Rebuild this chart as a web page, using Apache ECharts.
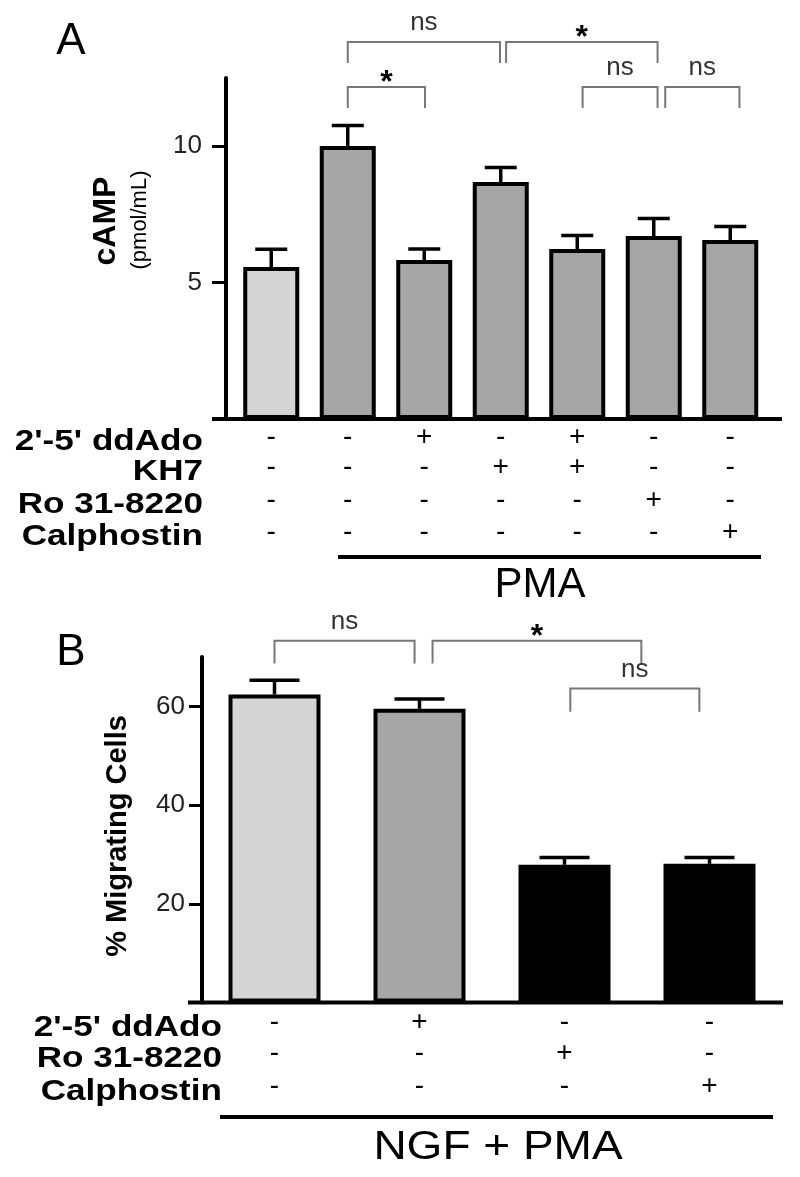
<!DOCTYPE html>
<html>
<head>
<meta charset="utf-8">
<script src="https://cdn.jsdelivr.net/npm/echarts@6/dist/echarts.min.js"></script>
<style>
  html, body { margin: 0; padding: 0; background: #fff; }
  #chart { width: 800px; height: 1177px; }
</style>
</head>
<body>
<div id="chart"></div>
<script>
// ---- panel A : cAMP ----
const catsA = ['ctrl', 'PMA', 'PMA+ddAdo', 'PMA+KH7', 'PMA+ddAdo+KH7', 'PMA+Ro', 'PMA+Calph']
const valuesA = [5.57, 10.01, 5.83, 8.69, 6.23, 6.71, 6.56]
const errorsA = [0.65, 0.75, 0.4, 0.53, 0.5, 0.64, 0.5]
const ticksA = [5, 10]
const rowNamesA = ["2'-5' ddAdo", 'KH7', 'Ro 31-8220', 'Calphostin']
const rowsA = [
    ['-', '-', '+', '-', '+', '-', '-'],
    ['-', '-', '-', '+', '+', '-', '-'],
    ['-', '-', '-', '-', '-', '+', '-'],
    ['-', '-', '-', '-', '-', '-', '+']
]
// [from, to, line value, end value, label]
const bracketsA = [
    [1.0, 2.99, 13.82, 13.05, 'ns'],
    [1.0, 2.01, 12.17, 11.4, '*'],
    [3.07, 5.05, 13.82, 13.05, '*'],
    [4.07, 5.05, 12.17, 11.4, 'ns'],
    [5.15, 6.12, 12.17, 11.4, 'ns']
]

// ---- panel B : migration ----
const catsB = ['NGF+PMA', '+ddAdo', '+Ro', '+Calph']
const valuesB = [62.4, 59.5, 27.9, 28.1]
const errorsB = [2.9, 2.0, 1.5, 1.3]
const ticksB = [20, 40, 60]
const rowNamesB = ["2'-5' ddAdo", 'Ro 31-8220', 'Calphostin']
const rowsB = [
    ['-', '+', '-', '-'],
    ['-', '-', '+', '-'],
    ['-', '-', '-', '+']
]
const bracketsB = [
    [0, 0.966, 73.3, 68.7, 'ns'],
    [1.09, 2.53, 73.3, 68.7, '*'],
    [2.04, 2.93, 63.6, 58.9, 'ns']
]

const FONT = '"Liberation Sans", Arial, Helvetica, sans-serif'

const errorRenderer = (capWidth) => (params, api) => {
    const top = api.coord([api.value(0), api.value(1) + api.value(2)])
    const base = api.coord([api.value(0), api.value(1)])
    return {
        type: 'group',
        children: [
            { type: 'line', shape: { x1: base[0], y1: base[1], x2: top[0], y2: top[1] }, style: { stroke: '#000', lineWidth: 3.5 } },
            { type: 'line', shape: { x1: top[0] - capWidth / 2, y1: top[1], x2: top[0] + capWidth / 2, y2: top[1] }, style: { stroke: '#000', lineWidth: 3.5 } }
        ]
    }
}

const yAxisBase = (grid, max, ticks, offset, margin, tickLen) => ({
    gridIndex: grid,
    type: 'value',
    min: 0,
    max: max,
    offset: offset,
    axisLine: { show: true, lineStyle: { color: '#000', width: 4 } },
    axisTick: { show: true, customValues: ticks, length: tickLen, lineStyle: { color: '#000', width: 3 } },
    axisLabel: { customValues: ticks, fontSize: 26, color: '#222', fontFamily: FONT, margin: margin },
    splitLine: { show: false }
})

const xAxisBase = (grid, cats) => ({
    gridIndex: grid,
    type: 'category',
    data: cats,
    axisLine: { show: false },
    axisTick: { show: false },
    axisLabel: { show: false }
})

const shadeA = i => i === 0 ? '#d4d4d4' : '#a6a6a6'
const shadeB = i => ['#d4d4d4', '#a6a6a6', '#000', '#000'][i]

const option = {
    animation: false,
    backgroundColor: '#fff',
    grid: [
        { left: 233, width: 535.5, top: 78, height: 341 },
        { left: 202, width: 580, top: 657, height: 345.5 }
    ],
    xAxis: [xAxisBase(0, catsA), xAxisBase(1, catsB)],
    yAxis: [
        yAxisBase(0, 12.5, ticksA, 7, 24, 14),
        yAxisBase(1, 70, ticksB, 0, 17, 13)
    ],
    series: [
        {
            type: 'bar', xAxisIndex: 0, yAxisIndex: 0, barWidth: 56,
            data: valuesA.map((v, i) => ({ value: v, itemStyle: { color: shadeA(i), borderColor: '#000', borderWidth: 4 } }))
        },
        {
            type: 'custom', xAxisIndex: 0, yAxisIndex: 0, z: 3,
            encode: { x: 0, y: 1 },
            renderItem: errorRenderer(32),
            data: valuesA.map((v, i) => [i, v, errorsA[i]])
        },
        {
            type: 'bar', xAxisIndex: 1, yAxisIndex: 1, barWidth: 92,
            data: valuesB.map((v, i) => ({ value: v, itemStyle: { color: shadeB(i), borderColor: '#000', borderWidth: 4 } }))
        },
        {
            type: 'custom', xAxisIndex: 1, yAxisIndex: 1, z: 3,
            encode: { x: 0, y: 1 },
            renderItem: errorRenderer(50),
            data: valuesB.map((v, i) => [i, v, errorsB[i]])
        }
    ]
}

const chart = echarts.init(document.getElementById('chart'))
chart.setOption(option)

// helpers for annotations placed through the axes
const px = (g, x, y) => chart.convertToPixel({ gridIndex: g }, [x, y])
const xAt = (g, f) => {
    const p0 = px(g, 0, 0)[0]
    const p1 = px(g, 1, 0)[0]
    return p0 + f * (p1 - p0)
}
const yAt = (g, v) => px(g, 0, v)[1]

const text = (x, y, s, size, weight, extra) => Object.assign({
    type: 'text', x: x, y: y, silent: true,
    style: {
        text: s, fill: '#000', fontFamily: FONT, fontSize: size, fontWeight: weight || 'normal',
        align: 'center', verticalAlign: 'middle', textAlign: 'center', textVerticalAlign: 'middle'
    }
}, extra || {})

const hline = (x1, x2, y, w, color) => ({
    type: 'line', silent: true,
    shape: { x1: x1, y1: y, x2: x2, y2: y },
    style: { stroke: color || '#000', lineWidth: w }
})

const graphics = []

// baselines
graphics.push(hline(212, 782, yAt(0, 0), 4))
graphics.push(hline(188, 783, yAt(1, 0), 4))

// panel letters
graphics.push(text(71, 42, 'A', 44))
graphics.push(text(71, 653, 'B', 44))

// y axis names
graphics.push(text(106, 221, 'cAMP', 32, 'bold', { rotation: Math.PI / 2 }))
graphics.push(text(140, 220, '(pmol/mL)', 22, 'normal', { rotation: Math.PI / 2 }))
graphics.push(text(118, 836, '% Migrating Cells', 29, 'bold', { rotation: Math.PI / 2 }))

// condition tables
const rowLabel = (x, y, s) => {
    const t = text(x, y, s, 30, 'bold', { scaleX: 1.17 })
    t.style.align = 'right'
    t.style.textAlign = 'right'
    return t
}
const rowYA = [442, 472, 505, 537]
rowNamesA.forEach((n, r) => {
    graphics.push(rowLabel(203, rowYA[r], n))
    rowsA[r].forEach((s, i) => graphics.push(text(xAt(0, i), rowYA[r] - 5, s, 28)))
})
const rowYB = [1028, 1059, 1092]
rowNamesB.forEach((n, r) => {
    graphics.push(rowLabel(222, rowYB[r], n))
    rowsB[r].forEach((s, i) => graphics.push(text(xAt(1, i), rowYB[r] - 6, s, 28)))
})

// treatment group lines
graphics.push(hline(338, 761, 557, 4))
graphics.push(text(540, 585, 'PMA', 42))
graphics.push(hline(220, 773, 1117, 4))
graphics.push(text(498, 1148, 'NGF + PMA', 40, 'normal', { scaleX: 1.15 }))

// significance brackets
const bracket = (g, b) => {
    const x1 = xAt(g, b[0])
    const x2 = xAt(g, b[1])
    const yl = yAt(g, b[2])
    const ye = yAt(g, b[3])
    graphics.push({
        type: 'polyline', silent: true,
        shape: { points: [[x1, ye], [x1, yl], [x2, yl], [x2, ye]] },
        style: { stroke: '#777', lineWidth: 2, fill: null }
    })
    const mx = (x1 + x2) / 2
    if (b[4] === '*') graphics.push(text(mx, yl - 4, '*', 32, 'bold'))
    else {
        const t = text(mx, yl - 19, b[4], 26)
        t.style.fill = '#333'
        graphics.push(t)
    }
}
bracketsA.forEach(b => bracket(0, b))
bracketsB.forEach(b => bracket(1, b))

chart.setOption({ graphic: graphics })
</script>
</body>
</html>
